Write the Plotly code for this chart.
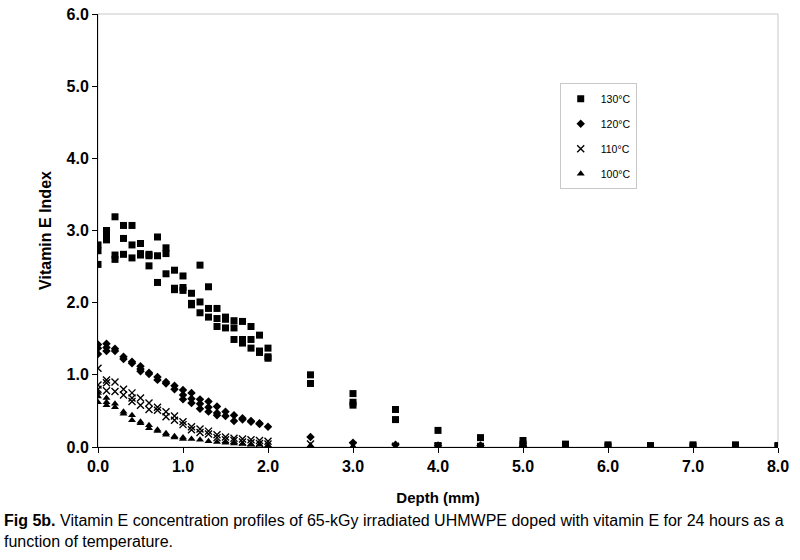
import plotly.graph_objects as go

# ---- data (depth in mm, Vitamin E index) ----
depth_130 = [0.0, 0.0, 0.0, 0.1, 0.1, 0.1, 0.2, 0.2, 0.2, 0.3, 0.3, 0.3,
             0.4, 0.4, 0.4, 0.5, 0.5, 0.5, 0.6, 0.6, 0.6, 0.7, 0.7, 0.7,
             0.8, 0.8, 0.8, 0.9, 0.9, 0.9, 1.0, 1.0, 1.0, 1.1, 1.1, 1.1,
             1.2, 1.2, 1.2, 1.3, 1.3, 1.3, 1.4, 1.4, 1.4, 1.5, 1.5, 1.5,
             1.6, 1.6, 1.6, 1.7, 1.7, 1.7, 1.8, 1.8, 1.8, 1.9, 1.9, 1.9,
             2.0, 2.0, 2.0, 2.5, 2.5, 3.0, 3.0, 3.0, 3.5, 3.5, 4.0, 4.0,
             4.5, 4.5, 5.0, 5.0, 5.0, 5.5, 5.5, 6.0, 6.0, 6.5, 6.5, 7.0, 7.0,
             7.5, 7.5, 8.0, 8.0]
vite_130 = [2.53, 2.72, 2.80, 2.87, 2.95, 3.00, 3.19, 2.66, 2.60, 3.07, 2.89, 2.67,
            3.07, 2.80, 2.62, 2.82, 2.68, 2.66, 2.67, 2.51, 2.65, 2.91, 2.65, 2.28,
            2.76, 2.68, 2.40, 2.45, 2.20, 2.18, 2.37, 2.21, 2.17, 2.13, 1.97, 1.99,
            2.52, 2.01, 1.86, 2.22, 1.92, 1.80, 1.92, 1.78, 1.67, 1.80, 1.77, 1.65,
            1.75, 1.65, 1.49, 1.74, 1.49, 1.44, 1.67, 1.49, 1.37, 1.55, 1.31, 1.33,
            1.37, 1.23, 1.25, 1.00, 0.88, 0.74, 0.62, 0.58, 0.52, 0.38, 0.23, 0.02,
            0.13, 0.01, 0.09, 0.04, 0.01, 0.04, 0.02, 0.03, 0.01, 0.02, 0.01, 0.03, 0.01,
            0.03, 0.01, 0.02, 0.01]

depth_120 = [0.0, 0.0, 0.0, 0.1, 0.1, 0.1, 0.2, 0.2, 0.3, 0.3, 0.4, 0.4,
             0.5, 0.5, 0.5, 0.6, 0.6, 0.7, 0.7, 0.8, 0.8, 0.9, 0.9,
             1.0, 1.0, 1.0, 1.1, 1.1, 1.1, 1.2, 1.2, 1.2, 1.3, 1.3, 1.3,
             1.4, 1.4, 1.4, 1.5, 1.5, 1.6, 1.6, 1.7, 1.7, 1.8, 1.8, 1.9, 1.9,
             2.0, 2.5, 3.0, 3.5, 4.0, 4.5, 5.0]
vite_120 = [1.42, 1.37, 1.29, 1.43, 1.38, 1.33, 1.36, 1.33, 1.25, 1.22, 1.18, 1.16,
            1.12, 1.08, 1.05, 1.03, 1.01, 0.97, 0.93, 0.90, 0.88, 0.85, 0.80,
            0.79, 0.72, 0.66, 0.75, 0.67, 0.61, 0.66, 0.60, 0.53, 0.63, 0.55, 0.49,
            0.56, 0.47, 0.44, 0.49, 0.43, 0.44, 0.36, 0.40, 0.38, 0.36, 0.35, 0.33, 0.32,
            0.28, 0.14, 0.06, 0.03, 0.02, 0.02, 0.01]

depth_110 = [0.0, 0.0, 0.0, 0.1, 0.1, 0.1, 0.2, 0.2, 0.3, 0.3, 0.4, 0.4, 0.4,
             0.5, 0.5, 0.6, 0.6, 0.7, 0.7, 0.8, 0.8, 0.9, 0.9, 1.0, 1.0,
             1.1, 1.1, 1.2, 1.2, 1.3, 1.3, 1.4, 1.4, 1.5, 1.5, 1.6, 1.6,
             1.7, 1.7, 1.8, 1.8, 1.9, 1.9, 2.0, 2.0, 2.5, 3.0, 3.5, 4.0]
vite_110 = [1.09, 0.86, 0.80, 0.93, 0.89, 0.78, 0.90, 0.77, 0.80, 0.72, 0.75, 0.68, 0.63,
            0.68, 0.58, 0.61, 0.52, 0.55, 0.51, 0.49, 0.42, 0.43, 0.37, 0.35, 0.31,
            0.28, 0.24, 0.25, 0.20, 0.22, 0.18, 0.17, 0.13, 0.14, 0.10, 0.12, 0.09,
            0.11, 0.07, 0.10, 0.06, 0.09, 0.05, 0.08, 0.04, 0.04, 0.02, 0.01, 0.01]

depth_100 = [0.0, 0.0, 0.0, 0.1, 0.1, 0.1, 0.2, 0.2, 0.3, 0.3, 0.4, 0.4,
             0.5, 0.5, 0.6, 0.6, 0.7, 0.7, 0.8, 0.8, 0.9, 0.9, 1.0, 1.0,
             1.1, 1.2, 1.3, 1.4, 1.5, 1.6, 1.7, 1.8, 1.9, 2.0, 2.5, 3.0]
vite_100 = [0.75, 0.70, 0.62, 0.68, 0.62, 0.58, 0.60, 0.55, 0.49, 0.46, 0.44, 0.37,
            0.35, 0.33, 0.30, 0.26, 0.24, 0.22, 0.19, 0.17, 0.15, 0.13, 0.13, 0.11,
            0.11, 0.10, 0.08, 0.07, 0.06, 0.05, 0.04, 0.03, 0.03, 0.02, 0.02, 0.01]

series_names = ["130°C", "120°C", "110°C", "100°C"]
x_ticks = [0, 1, 2, 3, 4, 5, 6, 7, 8]
y_ticks = [0, 1, 2, 3, 4, 5, 6]

FONT = "Liberation Sans, Arial, sans-serif"

fig = go.Figure()
fig.add_trace(go.Scatter(x=depth_130, y=vite_130, mode="markers", name=series_names[0],
                         legendgroup="a",
                         marker=dict(symbol="square", size=7, color="black")))
fig.add_trace(go.Scatter(x=depth_120, y=vite_120, mode="markers", name=series_names[1],
                         legendgroup="b",
                         marker=dict(symbol="diamond", size=6.5, color="black")))
fig.add_trace(go.Scatter(x=depth_110, y=vite_110, mode="markers", name=series_names[2],
                         legendgroup="c",
                         marker=dict(symbol="x-thin", size=7, color="black",
                                     line=dict(width=1.4, color="black"))))
fig.add_trace(go.Scatter(x=depth_100, y=vite_100, mode="markers", name=series_names[3],
                         legendgroup="d",
                         marker=dict(symbol="triangle-up", size=7, color="black")))

# light gray frame (top/right) of the plot area
fig.add_shape(type="rect", xref="paper", yref="paper", x0=0, y0=0, x1=1, y1=1,
              line=dict(color="#c8c8c8", width=1), layer="below")

fig.update_layout(
    width=800, height=560,
    margin=dict(l=98, r=22, t=14, b=113),
    paper_bgcolor="white", plot_bgcolor="white",
    font=dict(family=FONT, color="black"),
    showlegend=True,
    legend=dict(x=0.679, y=0.840, xanchor="left", yanchor="top",
                bordercolor="#c8c8c8", borderwidth=1, bgcolor="white",
                font=dict(size=10.5, family=FONT), tracegroupgap=6,
                itemsizing="trace"),
    xaxis=dict(range=[0, 8], tickvals=x_ticks, tickformat=".1f",
               showgrid=False, zeroline=False, automargin=False,
               showline=True, linecolor="black", linewidth=1,
               ticks="outside", ticklen=5, tickcolor="black",
               ticklabeloverflow="allow",
               tickfont=dict(size=16, family=FONT, weight="bold"),
               title=dict(text="<b>Depth (mm)</b>", font=dict(size=15, family=FONT),
                          standoff=18)),
    yaxis=dict(range=[0, 6], tickvals=y_ticks, tickformat=".1f",
               showgrid=False, zeroline=False, automargin=False,
               showline=True, linecolor="black", linewidth=1,
               ticks="outside", ticklen=5, tickcolor="black",
               ticklabeloverflow="allow",
               tickfont=dict(size=16, family=FONT, weight="bold"),
               title=dict(text="<b>Vitamin E Index</b>", font=dict(size=16, family=FONT),
                          standoff=10)),
)

fig.add_annotation(
    xref="paper", yref="paper", x=-96 / 680, y=-(510 - 447) / 433,
    xanchor="left", yanchor="top", align="left", showarrow=False,
    text="<b>Fig 5b.</b> Vitamin E concentration profiles of 65-kGy irradiated UHMWPE doped with vitamin E for 24 hours as a<br>function of temperature.",
    font=dict(size=16, family=FONT, color="black"),
)

# remove the default 8px page margin so the 800x560 figure fills the window
fig.write_html("out.html", config={"displayModeBar": False},
               post_script="document.body.style.margin='0';")
